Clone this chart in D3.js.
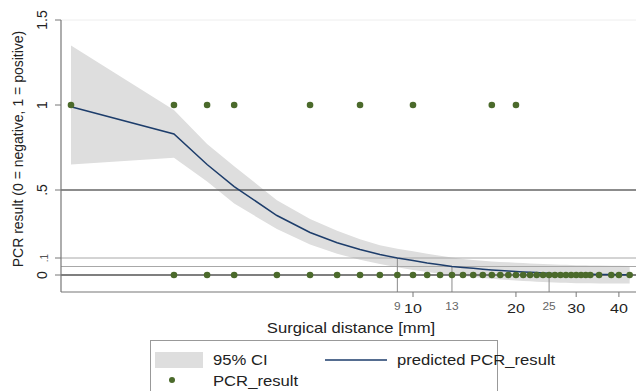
<!DOCTYPE html>
<html><head><meta charset="utf-8">
<script src="https://cdn.jsdelivr.net/npm/d3@7"></script>
<style>
html,body{margin:0;padding:0;background:#fff;}
text{font-family:"Liberation Sans",Arial,sans-serif;}
</style></head>
<body>
<svg id="chart" width="636" height="391"></svg>
<script>
// ---- data ----
const xGrid = [1,2,2.5,3,4,5,6,7,8,9,10,11,12,13,14,15,16,17,18,19,20,21,22,23,24,25,26,27,28,29,30,31,32,33,35,38,40,43];
const predicted = [0.99,0.83,0.65,0.52,0.35,0.25,0.19,0.15,0.12,0.1,0.085,0.071,0.06,0.05,0.044,0.039,0.034,0.03,0.026,0.023,0.02,0.018,0.016,0.014,0.012,0.01,0.009,0.008,0.007,0.006,0.0055,0.005,0.0045,0.004,0.0035,0.0025,0.002,0.0015];
const ciLower = [0.65,0.69,0.55,0.42,0.27,0.18,0.125,0.09,0.065,0.045,0.03,0.018,0.008,0.0,-0.006,-0.012,-0.018,-0.022,-0.026,-0.029,-0.032,-0.035,-0.037,-0.039,-0.041,-0.043,-0.044,-0.045,-0.046,-0.047,-0.048,-0.048,-0.049,-0.049,-0.05,-0.05,-0.05,-0.05];
const ciUpper = [1.35,0.97,0.77,0.64,0.44,0.33,0.26,0.21,0.175,0.155,0.14,0.125,0.113,0.103,0.094,0.088,0.084,0.08,0.077,0.075,0.072,0.07,0.068,0.066,0.064,0.063,0.062,0.061,0.06,0.059,0.058,0.057,0.057,0.056,0.056,0.055,0.054,0.053];
const positiveX = [1,2,2.5,3,5,7,10,17,20];
const negativeX = [2,2.5,3,4,5,6,7,8,9,10,11,12,13,14,15,16,17,18,19,20,21,22,23,24,25,26,27,28,29,30,31,32,33,35,38,40,43];
const xTicks = [10,20,30,40];
const yTicks = [0,0.5,1,1.5];
const ySmallTicks = [0.1];
const yRefLines = [0.5,0.1,0.05,0];
const cutX = [9,13,25];
const cutY = [0.1,0.05,0.01];
const legendLabels = ["95% CI","predicted PCR_result","PCR_result"];

// ---- layout ----
const svg = d3.select("#chart");
const L = 61, R = 636, T = 20, B = 292;
const x = d3.scaleLog().domain([1,10]).range([71,413]);
const y = d3.scaleLinear().domain([0,1]).range([275,105]);
const SX = 1.19; // horizontal text stretch

const dotColor = "#4b6a2b", lineColor = "#1d3d6b", bandColor = "#dedede";

svg.append("defs").append("clipPath").attr("id","clip")
  .append("rect").attr("x",L).attr("y",T).attr("width",R-L).attr("height",B-T);

// top gridline at 1.5
svg.append("line").attr("x1",L).attr("x2",R).attr("y1",y(1.5)).attr("y2",y(1.5))
  .attr("stroke","#eeeeee").attr("stroke-width",1);

const g = svg.append("g").attr("clip-path","url(#clip)");

// CI band
const idx = d3.range(xGrid.length);
g.append("path").datum(idx)
  .attr("d", d3.area().x(i=>x(xGrid[i])).y0(i=>y(ciLower[i])).y1(i=>y(ciUpper[i])))
  .attr("fill", bandColor);

// reference lines
const refStyle = {0.5:["#666",1.3],0.1:["#a8a8a8",1],0.05:["#a8a8a8",1],0:["#555",1.3]};
yRefLines.forEach(v=>{
  g.append("line").attr("x1",L).attr("x2",R).attr("y1",y(v)).attr("y2",y(v))
   .attr("stroke",refStyle[v][0]).attr("stroke-width",refStyle[v][1]);
});
// drop lines
cutX.forEach((cx,i)=>{
  g.append("line").attr("x1",x(cx)).attr("x2",x(cx)).attr("y1",y(cutY[i])).attr("y2",B)
   .attr("stroke","#8a8a8a").attr("stroke-width",1);
});

// predicted line
g.append("path").datum(idx)
  .attr("d", d3.line().x(i=>x(xGrid[i])).y(i=>y(predicted[i])))
  .attr("fill","none").attr("stroke",lineColor).attr("stroke-width",1.5);

// dots
g.selectAll("circle.pos").data(positiveX).enter().append("circle")
  .attr("cx",d=>x(d)).attr("cy",y(1)).attr("r",3.3).attr("fill",dotColor);
g.selectAll("circle.neg").data(negativeX).enter().append("circle")
  .attr("cx",d=>x(d)).attr("cy",y(0)).attr("r",3.3).attr("fill",dotColor);

// axes lines
svg.append("line").attr("x1",L).attr("x2",L).attr("y1",T).attr("y2",B).attr("stroke","#777").attr("stroke-width",1.2);
svg.append("line").attr("x1",L).attr("x2",R).attr("y1",B).attr("y2",B).attr("stroke","#777").attr("stroke-width",1.2);

// y ticks
const fmtY = d => d===0 ? "0" : (d<1 ? String(d).replace(/^0/,"") : String(d));
yTicks.concat(ySmallTicks).forEach(v=>{
  svg.append("line").attr("x1",L-6).attr("x2",L).attr("y1",y(v)).attr("y2",y(v)).attr("stroke","#777");
  const small = ySmallTicks.includes(v);
  svg.append("text").attr("transform",`translate(${small?48:47},${y(v)}) rotate(-90)`)
    .attr("text-anchor","middle").attr("font-size",small?10:14).attr("fill",small?"#555":"#222")
    .text(fmtY(v));
});
// y title
svg.append("text").attr("transform",`translate(23,149) rotate(-90)`)
  .attr("text-anchor","middle").attr("font-size",14).attr("fill","#222")
  .text("PCR result (0 = negative, 1 = positive)");

// x ticks
xTicks.forEach(v=>{
  svg.append("line").attr("x1",x(v)).attr("x2",x(v)).attr("y1",B).attr("y2",B+5).attr("stroke","#777");
  svg.append("text").attr("transform",`translate(${x(v)},${B+21}) scale(${SX},1)`)
    .attr("text-anchor","middle").attr("font-size",13.5).attr("fill","#222").text(v);
});
cutX.forEach(v=>{
  svg.append("text").attr("transform",`translate(${x(v)},${B+18}) scale(${SX},1)`)
    .attr("text-anchor","middle").attr("font-size",10).attr("fill","#666").text(v);
});
// x title
svg.append("text").attr("transform",`translate(351,333) scale(${SX},1)`)
  .attr("text-anchor","middle").attr("font-size",14).attr("fill","#222").text("Surgical distance [mm]");

// legend
svg.append("rect").attr("x",150.5).attr("y",340.5).attr("width",347).attr("height",60)
  .attr("fill","#fff").attr("stroke","#999").attr("stroke-width",1);
svg.append("rect").attr("x",155).attr("y",352).attr("width",48).attr("height",16).attr("fill",bandColor);
svg.append("text").attr("transform",`translate(213,365) scale(${SX},1)`).attr("font-size",14).attr("fill","#222").text(legendLabels[0]);
svg.append("line").attr("x1",325).attr("x2",387).attr("y1",360).attr("y2",360).attr("stroke",lineColor).attr("stroke-width",1.5);
svg.append("text").attr("transform",`translate(397,365) scale(${SX},1)`).attr("font-size",14).attr("fill","#222").text(legendLabels[1]);
svg.append("circle").attr("cx",172).attr("cy",380).attr("r",3).attr("fill",dotColor);
svg.append("text").attr("transform",`translate(213,386) scale(${SX},1)`).attr("font-size",14).attr("fill","#222").text(legendLabels[2]);
</script>
</body></html>
